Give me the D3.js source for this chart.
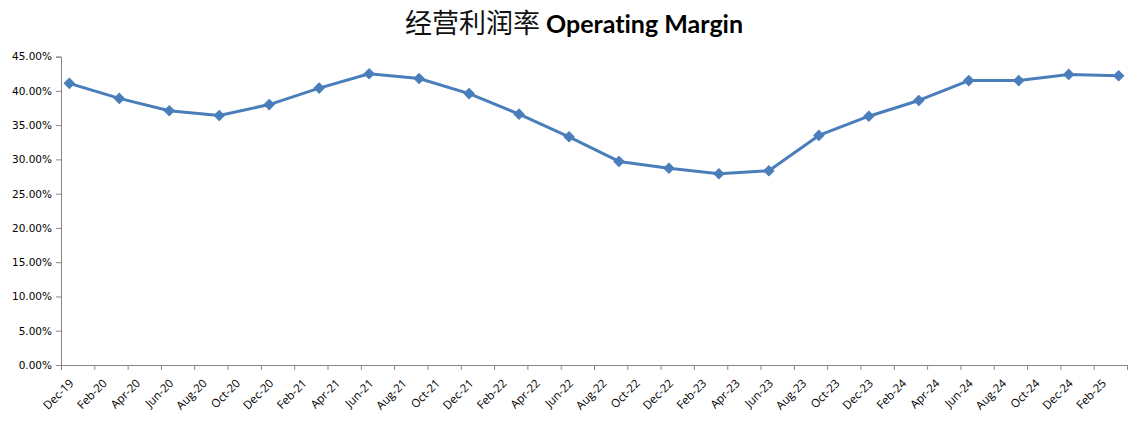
<!DOCTYPE html>
<html><head><meta charset="utf-8">
<script src="https://cdn.jsdelivr.net/npm/d3@7"></script>
<style>body{margin:0;background:#fff}svg{display:block}text{font-variant-ligatures:none;font-feature-settings:"liga" 0}</style>
</head><body>
<svg id="c" width="1147" height="435"></svg>
<script>
// Data (quarterly operating margin, %)
const periods = ["2019-12","2020-03","2020-06","2020-09","2020-12","2021-03","2021-06","2021-09","2021-12","2022-03","2022-06","2022-09","2022-12","2023-03","2023-06","2023-09","2023-12","2024-03","2024-06","2024-09","2024-12","2025-03"];
const margin = [41.1,38.9,37.1,36.4,38.0,40.4,42.5,41.8,39.6,36.6,33.3,29.7,28.7,27.9,28.35,33.5,36.3,38.6,41.5,41.5,42.4,42.2];
const tickLabels = ["Dec-19","Feb-20","Apr-20","Jun-20","Aug-20","Oct-20","Dec-20","Feb-21","Apr-21","Jun-21","Aug-21","Oct-21","Dec-21","Feb-22","Apr-22","Jun-22","Aug-22","Oct-22","Dec-22","Feb-23","Apr-23","Jun-23","Aug-23","Oct-23","Dec-23","Feb-24","Apr-24","Jun-24","Aug-24","Oct-24","Dec-24","Feb-25"];
const yTicks = [0,5,10,15,20,25,30,35,40,45];
const titleCN = "经营利润率";
const titleEN = "Operating Margin";

const svg = d3.select("#c");
const L = 61, R = 1127, T = 56.6, B = 365;
const nMonths = 64; // Dec-19 .. Mar-25
const monthIdx = s => { const [y,m] = s.split("-").map(Number); return (y-2019)*12 + (m-12); };

const x = d3.scaleLinear().domain([0, nMonths]).range([L, R]);
const y = d3.scaleLinear().domain([0, 45]).range([B, T]);
const axisColor = "#868686";

// Title
const title = svg.append("text").attr("x", 574).attr("y", 33).attr("text-anchor","middle");
title.append("tspan").text(titleCN).attr("font-family","'Noto Sans CJK SC'").attr("font-size",27).attr("font-weight",400).attr("fill","#111");
title.append("tspan").text(" " + titleEN).attr("font-family","Lato, 'Open Sans', sans-serif").attr("font-size",25).attr("font-weight",700).attr("fill","#000");

// Y axis
const yAxis = d3.axisLeft(y).tickValues(yTicks).tickSize(5).tickPadding(4).tickFormat(d => d.toFixed(2) + "%");
const gy = svg.append("g").attr("transform", `translate(${L},0)`).call(yAxis);
gy.selectAll("path,line").attr("stroke", axisColor);
gy.selectAll("text").attr("font-family","'DejaVu Sans', Verdana, sans-serif").attr("font-size",10.5).attr("fill","#000");

// X axis (ticks every 2 months, labels centred on the first month of each pair)
const tickPos = d3.range(0, nMonths + 1, 2);
const xAxis = d3.axisBottom(x).tickValues(tickPos).tickSize(5).tickFormat("");
const gx = svg.append("g").attr("transform", `translate(0,${B})`).call(xAxis);
gx.selectAll("path,line").attr("stroke", axisColor);
gx.select(".domain").attr("d", `M${L},0.5H${R}`);

svg.append("g").selectAll("text").data(tickLabels).join("text")
  .attr("transform", (d,i) => `translate(${x(i*2 + 0.5) + 5},${B + 19}) rotate(-45)`)
  .attr("text-anchor","end")
  .attr("font-family","'Open Sans', sans-serif").attr("font-size",11.5).attr("fill","#000")
  .text(d => d);

// Line
const pts = periods.map((p,i) => ({mx: monthIdx(p) + 0.5, v: margin[i]}));
const line = d3.line().x(d => x(d.mx)).y(d => y(d.v));
svg.append("path").datum(pts).attr("d", line).attr("fill","none")
  .attr("stroke","#4a7ebb").attr("stroke-width",3).attr("stroke-linejoin","round");

// Diamond markers (square rotated 45°)
const sym = d3.symbol().type(d3.symbolSquare).size(52);
svg.append("g").selectAll("path").data(pts).join("path")
  .attr("transform", d => `translate(${x(d.mx)},${y(d.v)}) rotate(45)`)
  .attr("d", sym).attr("fill","#4a7ebb").attr("stroke","#4a7ebb").attr("stroke-width",1);
</script>
</body></html>
